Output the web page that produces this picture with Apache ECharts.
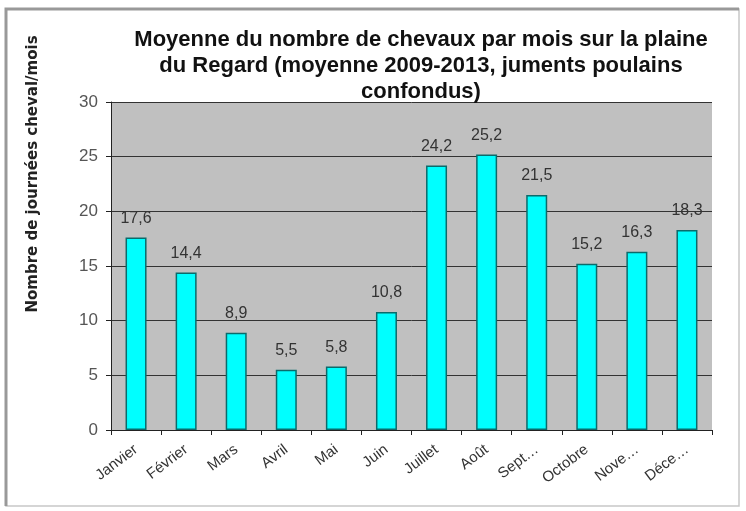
<!DOCTYPE html>
<html><head><meta charset="utf-8">
<script src="https://cdn.jsdelivr.net/npm/echarts@6/dist/echarts.min.js"></script>
<style>html,body{margin:0;padding:0;background:#fff}#c{width:746px;height:511px}</style>
</head><body><div id="c"></div>
<script>
const categories = ['Janvier','Février','Mars','Avril','Mai','Juin','Juillet','Août','Sept…','Octobre','Nove…','Déce…'];
const values = [17.6, 14.4, 8.9, 5.5, 5.8, 10.8, 24.2, 25.2, 21.5, 15.2, 16.3, 18.3];
const titleText = 'Moyenne du nombre de chevaux par mois sur la plaine\ndu Regard (moyenne 2009-2013, juments poulains\nconfondus)';
const yName = 'Nombre de journées cheval/mois';

const chart = echarts.init(document.getElementById('c'), null, {renderer:'canvas'});
chart.setOption({
  backgroundColor: '#fff',
  animation: false,
  title: {
    text: titleText,
    left: 416, top: 22, textAlign: 'center',
    textStyle: {fontFamily: 'Liberation Sans', fontWeight: 'bold', fontSize: 22, lineHeight: 26, color: '#111'}
  },
  graphic: [
    {type:'rect', shape:{x:6, y:9, width:733, height:497}, style:{fill:'none', stroke:'#c8c8c8', lineWidth:1.5}, z:-1},
    {type:'polyline', shape:{points:[[6,506],[6,9],[739,9]]}, style:{fill:'none', stroke:'#999', lineWidth:3}, z:-1},
    {type:'text', x:33, y:174, rotation: Math.PI/2,
     style:{text: yName, fontFamily:'DejaVu Sans', fontWeight:'bold', fontSize:15, fill:'#222', align:'center', verticalAlign:'middle'}}
  ],
  grid: {left:111, right:34, top:102, bottom:81, show:true, backgroundColor:'#c0c0c0', borderWidth:0},
  xAxis: {
    type:'category', data: categories,
    axisLine:{lineStyle:{color:'#222', width:1}},
    axisTick:{show:true, alignWithLabel:false, length:5, lineStyle:{color:'#222'}},
    axisLabel:{rotate:37, fontFamily:'Liberation Sans', fontSize:15, color:'#333', margin:18}
  },
  yAxis: {
    type:'value', min:0, max:30, interval:5,
    axisLine:{show:true, lineStyle:{color:'#222', width:1}},
    axisTick:{show:true, length:5, lineStyle:{color:'#222'}},
    axisLabel:{fontFamily:'Liberation Sans', fontSize:17, color:'#555', margin:13},
    splitLine:{show:true, lineStyle:{color:'#333', width:1}}
  },
  series: [{
    type:'bar', data: values, barWidth: 21,
    itemStyle:{color:'#00ffff', borderColor:'#0b6b6b', borderWidth:1.5},
    label:{show:true, position:'top', distance:11, fontFamily:'Liberation Sans', fontSize:16, color:'#333',
      formatter: p => String(p.value).replace('.', ',')}
  }]
});
</script></body></html>
